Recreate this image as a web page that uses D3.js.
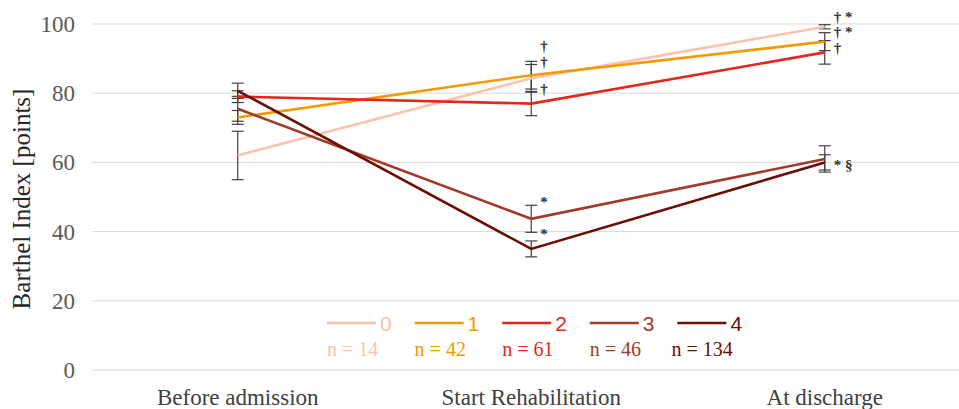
<!DOCTYPE html>
<html>
<head>
<meta charset="utf-8">
<script src="https://cdn.jsdelivr.net/npm/d3@7"></script>
<style>
  body { margin: 0; background: #fff; }
  svg { display: block; }
</style>
</head>
<body>
<div id="chart"></div>
<script>
// data
const categories = ['Before admission', 'Start Rehabilitation', 'At discharge'];
const groups = ['0', '1', '2', '3', '4'];
const groupN = [14, 42, 61, 46, 134];
const colors = ['#f8c4ae', '#f39a00', '#e2281c', '#a23a2a', '#6b0e06'];

const means = [
  [62, 84.3, 99.2],
  [73, 85.2, 94.9],
  [79, 77, 91.8],
  [75.5, 43.7, 61],
  [80.7, 35, 60]
];
const errors = [
  [7, 4, 0.6],
  [2, 4, 2.6],
  [1.7, 3.5, 3.4],
  [3.6, 3.9, 3.8],
  [2.2, 2.3, 2.2]
];

const yTicks = [0, 20, 40, 60, 80, 100];

// significance marks: category index, value where drawn, text
const marks = [
  { cat: 1, value: 93.6, text: '†' },
  { cat: 1, value: 89.1, text: '†' },
  { cat: 1, value: 81.2, text: '†' },
  { cat: 1, value: 48.6, text: '*' },
  { cat: 1, value: 39.2, text: '*' },
  { cat: 2, value: 101.9, text: '† *' },
  { cat: 2, value: 97.7, text: '† *' },
  { cat: 2, value: 93.1, text: '†' },
  { cat: 2, value: 59.2, text: '* §' }
];

const width = 959, height = 409;
const serif = '"Liberation Serif", "Times New Roman", serif';

const svg = d3.select('#chart').append('svg')
  .attr('width', width)
  .attr('height', height);

const x = d3.scaleBand()
  .domain(categories)
  .range([91, 971.5]);

const y = d3.scaleLinear()
  .domain([0, 100])
  .range([370, 24]);

const cx = c => x(c) + x.bandwidth() / 2;

// grid lines
svg.append('g')
  .selectAll('line')
  .data(yTicks)
  .enter()
  .append('line')
  .attr('x1', 92)
  .attr('x2', width)
  .attr('y1', d => y(d))
  .attr('y2', d => y(d))
  .attr('stroke', '#d9d9d9')
  .attr('stroke-width', 1);

// y tick labels
svg.append('g')
  .selectAll('text')
  .data(yTicks)
  .enter()
  .append('text')
  .attr('x', 75)
  .attr('y', d => y(d))
  .attr('dy', '0.35em')
  .attr('text-anchor', 'end')
  .style('font-family', serif)
  .attr('font-size', 23)
  .attr('fill', '#595959')
  .text(d => d);

// y title
svg.append('text')
  .attr('transform', `translate(21,199) rotate(-90)`)
  .attr('text-anchor', 'middle')
  .attr('dy', '0.35em')
  .style('font-family', serif)
  .attr('font-size', 25)
  .attr('fill', '#262626')
  .text('Barthel Index [points]');

// category labels
svg.append('g')
  .selectAll('text')
  .data(categories)
  .enter()
  .append('text')
  .attr('x', d => cx(d))
  .attr('y', 405)
  .attr('text-anchor', 'middle')
  .style('font-family', serif)
  .attr('font-size', 23)
  .attr('fill', '#404040')
  .text(d => d);

// error bars
const ebData = [];
groups.forEach((g, i) => {
  categories.forEach((c, j) => {
    ebData.push({ c, m: means[i][j], e: errors[i][j] });
  });
});

const eb = svg.append('g').attr('stroke', '#404040').attr('stroke-width', 1.2);
eb.selectAll('line.v')
  .data(ebData)
  .enter()
  .append('line')
  .attr('x1', d => cx(d.c))
  .attr('x2', d => cx(d.c))
  .attr('y1', d => y(d.m - d.e))
  .attr('y2', d => y(d.m + d.e));
[-1, 1].forEach(s => {
  eb.selectAll('line.cap' + s)
    .data(ebData)
    .enter()
    .append('line')
    .attr('x1', d => cx(d.c) - 6)
    .attr('x2', d => cx(d.c) + 6)
    .attr('y1', d => y(d.m + s * d.e))
    .attr('y2', d => y(d.m + s * d.e));
});

// lines
const line = d3.line()
  .x((d, j) => cx(categories[j]))
  .y(d => y(d));

svg.append('g')
  .selectAll('path')
  .data(means)
  .enter()
  .append('path')
  .attr('fill', 'none')
  .attr('stroke', (d, i) => colors[i])
  .attr('stroke-width', 2.6)
  .attr('d', line);

// significance marks
svg.append('g')
  .selectAll('text')
  .data(marks)
  .enter()
  .append('text')
  .attr('x', d => cx(categories[d.cat]) + 9)
  .attr('y', d => y(d.value))
  .attr('dy', '0.32em')
  .style('font-family', serif)
  .style('white-space', 'pre')
  .attr('font-size', 15)
  .attr('font-weight', 'bold')
  .attr('fill', '#333333')
  .text(d => d.text);

// legend
const legend = svg.append('g');
const lx = d3.scaleBand().domain(groups).range([327, 765]);
const item = legend.selectAll('g')
  .data(groups)
  .enter()
  .append('g')
  .attr('transform', d => `translate(${lx(d)},0)`);

item.append('line')
  .attr('x1', 0)
  .attr('x2', 49)
  .attr('y1', 323)
  .attr('y2', 323)
  .attr('stroke', (d, i) => colors[i])
  .attr('stroke-width', 2.6);

item.append('text')
  .attr('x', 53)
  .attr('y', 323)
  .attr('dy', '0.36em')
  .style('font-family', '"Liberation Sans", Arial, sans-serif')
  .attr('font-size', 21)
  .attr('fill', (d, i) => colors[i])
  .text(d => d);

item.append('text')
  .attr('x', (d, i) => i === 4 ? -6 : 0)
  .attr('y', 356)
  .style('font-family', serif)
  .attr('font-size', 20)
  .attr('fill', (d, i) => colors[i])
  .text((d, i) => 'n = ' + groupN[i]);
</script>
</body>
</html>
